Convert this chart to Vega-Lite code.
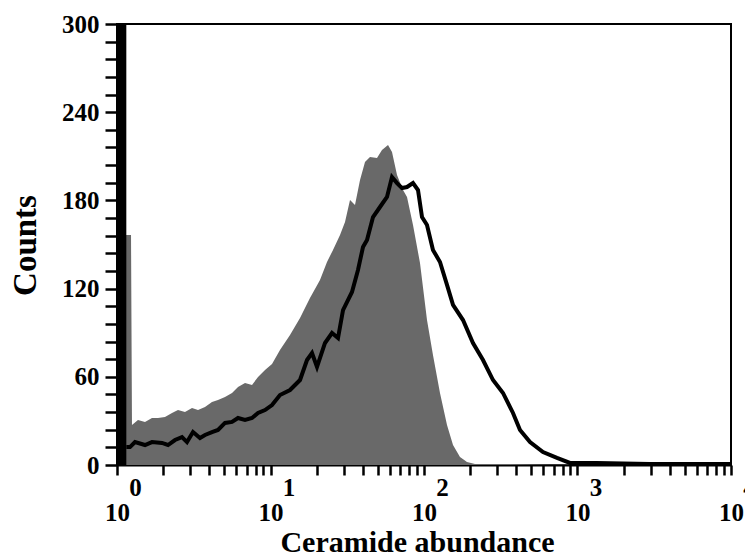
{
  "$schema": "https://vega.github.io/schema/vega-lite/v6.json",
  "width": 614,
  "height": 441,
  "autosize": "none",
  "padding": {"left": 117, "top": 24, "right": 14, "bottom": 93},
  "background": "white",
  "config": {
    "view": {"stroke": "black", "strokeWidth": 2},
    "axis": {
      "grid": false,
      "ticks": true,
      "domainColor": "black",
      "domainWidth": 2,
      "tickColor": "black",
      "tickWidth": 2,
      "labelColor": "black",
      "titleColor": "black",
      "labelFont": "Liberation Serif",
      "titleFont": "Liberation Serif",
      "labelFontWeight": "bold",
      "titleFontWeight": "bold",
      "labelOverlap": false,
      "labelBound": false,
      "labelFlush": false
    }
  },
  "datasets": {
    "gray": [
      {"x": 1, "count": 156.5}, {"x": 1.234, "count": 156.5}, {"x": 1.252, "count": 27.2}, {"x": 1.37, "count": 30.6},
      {"x": 1.522, "count": 29.3}, {"x": 1.69, "count": 32.0}, {"x": 1.85, "count": 32.0}, {"x": 2.054, "count": 32.7},
      {"x": 2.282, "count": 35.4}, {"x": 2.497, "count": 37.4}, {"x": 2.773, "count": 36.1}, {"x": 3.081, "count": 38.8},
      {"x": 3.371, "count": 37.4}, {"x": 3.744, "count": 39.5}, {"x": 4.158, "count": 42.9}, {"x": 4.55, "count": 44.2},
      {"x": 5.054, "count": 46.3}, {"x": 5.614, "count": 49.0}, {"x": 6.142, "count": 53.1}, {"x": 6.823, "count": 55.8},
      {"x": 7.578, "count": 54.4}, {"x": 8.291, "count": 59.9}, {"x": 9.209, "count": 64.6}, {"x": 10.23, "count": 68.7},
      {"x": 11.53, "count": 78.2}, {"x": 13.4, "count": 88.4}, {"x": 15.57, "count": 100.0}, {"x": 18.08, "count": 113.6},
      {"x": 21.01, "count": 125.9}, {"x": 23.34, "count": 138.1}, {"x": 25.54, "count": 146.3}, {"x": 28.37, "count": 156.5},
      {"x": 30.58, "count": 165.3}, {"x": 32.96, "count": 180.3}, {"x": 35.52, "count": 176.9}, {"x": 38.3, "count": 193.9},
      {"x": 41.27, "count": 206.1}, {"x": 44.48, "count": 209.5}, {"x": 49.41, "count": 208.9}, {"x": 53.25, "count": 214.3},
      {"x": 58.29, "count": 217.7}, {"x": 61.88, "count": 212.9}, {"x": 66.7, "count": 197.3}, {"x": 72.99, "count": 187.1},
      {"x": 77.5, "count": 182.3}, {"x": 84.79, "count": 163.3}, {"x": 94.17, "count": 137.4}, {"x": 104.6, "count": 98.6},
      {"x": 114.4, "count": 74.8}, {"x": 127.1, "count": 49.0}, {"x": 141.2, "count": 27.2}, {"x": 154.5, "count": 13.6},
      {"x": 171.6, "count": 5.4}, {"x": 190.6, "count": 2.0}, {"x": 214.8, "count": 0.7}, {"x": 312.6, "count": 0.7},
      {"x": 662, "count": 0.3}, {"x": 1402, "count": 0.3}, {"x": 2967, "count": 0.2}, {"x": 10000, "count": 0}
    ],
    "black": [
      {"x": 1.15, "count": 12.2}, {"x": 1.215, "count": 12.2}, {"x": 1.31, "count": 15.6}, {"x": 1.522, "count": 13.6},
      {"x": 1.69, "count": 15.6}, {"x": 1.964, "count": 15.0}, {"x": 2.149, "count": 13.6}, {"x": 2.387, "count": 17.0},
      {"x": 2.651, "count": 19.0}, {"x": 2.858, "count": 15.6}, {"x": 3.127, "count": 22.4}, {"x": 3.473, "count": 18.4},
      {"x": 3.744, "count": 20.4}, {"x": 4.158, "count": 22.4}, {"x": 4.55, "count": 23.8}, {"x": 5.054, "count": 28.6},
      {"x": 5.614, "count": 29.3}, {"x": 6.142, "count": 32.0}, {"x": 6.823, "count": 30.6}, {"x": 7.578, "count": 32.0},
      {"x": 8.291, "count": 35.4}, {"x": 9.209, "count": 37.4}, {"x": 10.23, "count": 40.8}, {"x": 11.53, "count": 47.6},
      {"x": 13.4, "count": 51.0}, {"x": 15.57, "count": 57.8}, {"x": 17.29, "count": 71.4}, {"x": 18.64, "count": 76.2},
      {"x": 20.09, "count": 66.7}, {"x": 22.65, "count": 83.0}, {"x": 25.16, "count": 89.8}, {"x": 27.53, "count": 86.4},
      {"x": 29.68, "count": 105.4}, {"x": 33.96, "count": 117.7}, {"x": 37.15, "count": 132.7}, {"x": 40.05, "count": 148.3},
      {"x": 42.54, "count": 153.1}, {"x": 46.54, "count": 168.7}, {"x": 51.68, "count": 175.5}, {"x": 57.41, "count": 182.3},
      {"x": 61.88, "count": 195.9}, {"x": 66.7, "count": 191.8}, {"x": 71.9, "count": 188.4}, {"x": 77.5, "count": 189.1},
      {"x": 84.79, "count": 191.8}, {"x": 91.39, "count": 187.1}, {"x": 97.05, "count": 168.7}, {"x": 104.6, "count": 163.3},
      {"x": 114.4, "count": 146.3}, {"x": 127.1, "count": 138.1}, {"x": 141.2, "count": 122.5}, {"x": 154.5, "count": 108.9},
      {"x": 179.5, "count": 98.6}, {"x": 208.5, "count": 83.0}, {"x": 242.3, "count": 71.4}, {"x": 281.5, "count": 57.8},
      {"x": 327.1, "count": 49.0}, {"x": 380, "count": 35.4}, {"x": 422.1, "count": 23.8}, {"x": 490.5, "count": 15.6},
      {"x": 596, "count": 8.8}, {"x": 735.2, "count": 4.8}, {"x": 893.6, "count": 1.4}, {"x": 1340, "count": 1.4},
      {"x": 2967, "count": 0.7}, {"x": 10000, "count": 0.7}
    ],
    "spike": [
      {"x": 1, "xe": 1.15, "count": 0, "ce": 300}
    ]
  },
  "encoding": {
    "x": {
      "field": "x",
      "type": "quantitative",
      "scale": {"type": "log", "domain": [1, 10000], "nice": false},
      "axis": {
        "title": "Ceramide abundance",
        "titleFontSize": 30,
        "titleX": 300,
        "titleY": 77,
        "titleAlign": "center",
        "titleBaseline": "middle",
        "values": [1,2,3,4,5,6,7,8,9,10,20,30,40,50,60,70,80,90,100,200,300,400,500,600,700,800,900,1000,2000,3000,4000,5000,6000,7000,8000,9000,10000],
        "labelExpr": "(datum.value == 1 || datum.value == 10 || datum.value == 100 || datum.value == 1000 || datum.value == 10000) ? ['\u2800\u2800' + round(log(datum.value) / LN10), '10'] : ''",
        "labelFontSize": 25,
        "labelLineHeight": 25,
        "labelPadding": 0,
        "tickSize": 10,
        "tickWidth": 2.5,
        "encode": {
          "ticks": {
            "update": {
              "y2": {"signal": "(datum.value == 1 || datum.value == 10 || datum.value == 100 || datum.value == 1000 || datum.value == 10000) ? 11 : 7"}
            }
          }
        }
      }
    },
    "y": {
      "field": "count",
      "type": "quantitative",
      "scale": {"domain": [0, 300], "nice": false},
      "axis": {
        "title": "Counts",
        "titleFontSize": 33,
        "titleAngle": -90,
        "titleX": -92,
        "titleY": 221,
        "titleAlign": "center",
        "titleBaseline": "middle",
        "values": [0,12,24,36,48,60,72,84,96,108,120,132,144,156,168,180,192,204,216,228,240,252,264,276,288,300],
        "labelExpr": "datum.value % 60 == 0 ? datum.label : ''",
        "labelFontSize": 25,
        "labelPadding": 6,
        "labelBaseline": "middle",
        "tickSize": 12,
        "tickWidth": 2.5,
        "encode": {
          "ticks": {
            "update": {
              "x2": {"signal": "datum.value % 60 == 0 ? -13 : -7"}
            }
          }
        }
      }
    }
  },
  "layer": [
    {
      "data": {"name": "gray"},
      "mark": {"type": "area", "color": "#696969", "clip": true},
      "encoding": {"y": {"field": "count", "type": "quantitative", "stack": null}}
    },
    {
      "data": {"name": "spike"},
      "mark": {"type": "rect", "color": "black", "clip": true},
      "encoding": {
        "x2": {"field": "xe"},
        "y2": {"field": "ce"}
      }
    },
    {
      "data": {"name": "black"},
      "mark": {"type": "line", "color": "black", "strokeWidth": 4, "clip": true},
      "encoding": {}
    }
  ]
}
